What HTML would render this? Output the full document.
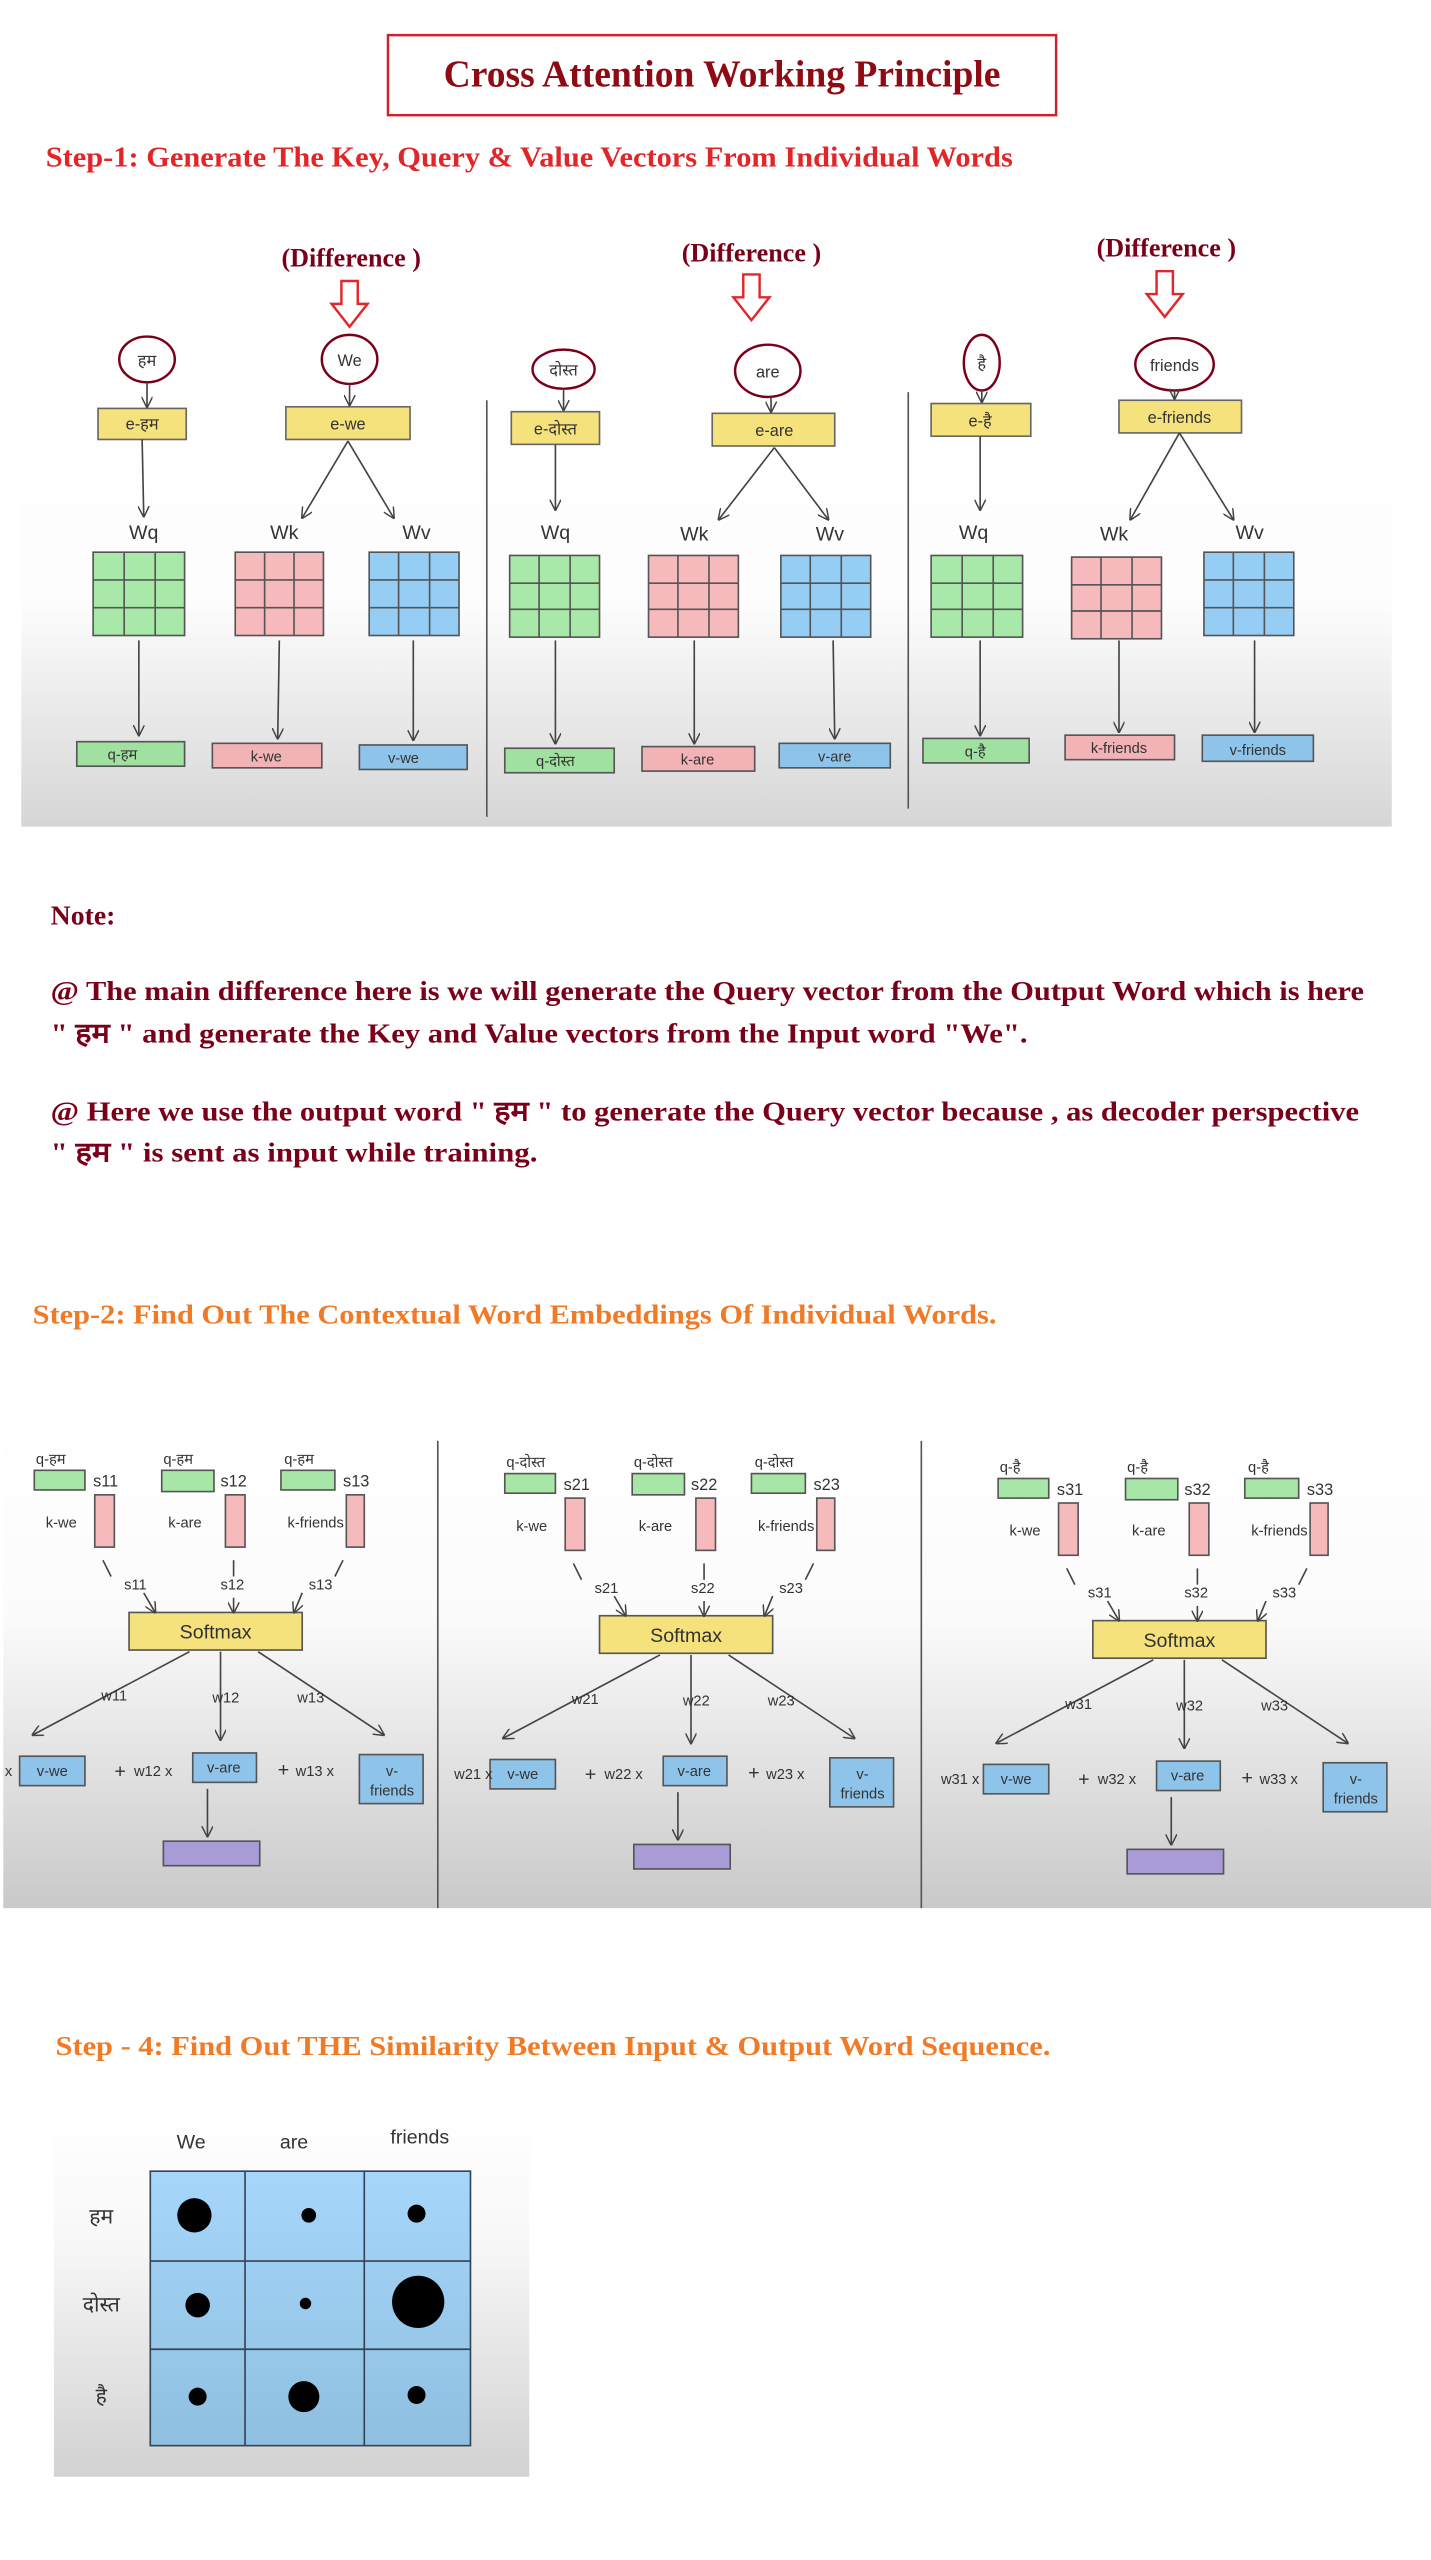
<!DOCTYPE html>
<html><head><meta charset="utf-8"><style>
html,body{margin:0;padding:0;background:#fff;}
svg{display:block}
.h{font-family:"Liberation Sans","Noto Sans CJK SC",sans-serif;fill:#333;}
.t{font-family:"Liberation Serif","Noto Serif CJK SC","Noto Sans CJK SC",serif;font-weight:bold;}
</style></head><body>
<svg width="1431" height="2560" viewBox="0 0 876 1567" preserveAspectRatio="none" xmlns="http://www.w3.org/2000/svg">
<defs>
<marker id="a" viewBox="0 0 10 10" refX="9" refY="5" markerWidth="7" markerHeight="7" orient="auto-start-reverse"><path d="M0,0 L10,5 L0,10" fill="none" stroke="#444" stroke-width="1.3"/></marker>
<linearGradient id="g1" x1="0" y1="0" x2="0" y2="1"><stop offset="0" stop-color="#fff"/><stop offset="0.65" stop-color="#fdfdfd"/><stop offset="1" stop-color="#d6d6d6"/></linearGradient>
<linearGradient id="g2" x1="0" y1="0" x2="0" y2="1"><stop offset="0" stop-color="#fff"/><stop offset="0.4" stop-color="#fbfbfb"/><stop offset="1" stop-color="#c9c9c9"/></linearGradient>
<linearGradient id="g3" x1="0" y1="0" x2="0" y2="1"><stop offset="0" stop-color="#fff"/><stop offset="0.35" stop-color="#f8f8f8"/><stop offset="1" stop-color="#d2d2d2"/></linearGradient>
<linearGradient id="gb" x1="0" y1="0" x2="0" y2="1"><stop offset="0" stop-color="#a6d6fa"/><stop offset="1" stop-color="#8fbfe0"/></linearGradient>
</defs>

<!-- Title -->
<rect x="237.5" y="21.5" width="409" height="49" fill="#fff" stroke="#d0202e" stroke-width="1.5"/>
<text class="t" x="442" y="53" font-size="23" fill="#8e0b14" text-anchor="middle">Cross Attention Working Principle</text>
<text class="t" x="28" y="102" font-size="17.5" fill="#e1262a" textLength="592" lengthAdjust="spacingAndGlyphs">Step-1: Generate The Key, Query &amp; Value Vectors From Individual Words</text>

<!-- Step 1 diagram -->
<rect x="13" y="112" width="839" height="394" fill="url(#g1)"/>
<line x1="298" y1="245" x2="298" y2="500" stroke="#555" stroke-width="1"/>
<line x1="556" y1="240" x2="556" y2="495" stroke="#555" stroke-width="1"/>

<g class="t" font-size="16" fill="#7a0019" text-anchor="middle">
<text x="215" y="163">(Difference )</text>
<text x="460" y="160">(Difference )</text>
<text x="714" y="157">(Difference )</text>
</g>
<g fill="#fff" stroke="#e0282c" stroke-width="1.5">
<path d="M209,172 h10 v14 h6 l-11,14 l-11,-14 h6z"/>
<path d="M455,168 h10 v14 h6 l-11,14 l-11,-14 h6z"/>
<path d="M708,166 h10 v14 h6 l-11,14 l-11,-14 h6z"/>
</g>

<g fill="none" stroke="#7a0019" stroke-width="1.5">
<ellipse cx="90" cy="220" rx="17" ry="14"/>
<ellipse cx="214" cy="220" rx="17" ry="15"/>
<ellipse cx="345" cy="226" rx="19" ry="12"/>
<ellipse cx="470" cy="227" rx="20" ry="16"/>
<ellipse cx="601" cy="222" rx="11" ry="17"/>
<ellipse cx="719" cy="223" rx="24" ry="16"/>
</g>
<g class="h" font-size="10" text-anchor="middle">
<text x="90" y="224">हम</text><text x="214" y="224">We</text><text x="345" y="230">दोस्त</text>
<text x="470" y="231">are</text><text x="601" y="226">है</text><text x="719" y="227">friends</text>
</g>

<g fill="#f6e27c" stroke="#666" stroke-width="1">
<rect x="60" y="250" width="54" height="19"/><rect x="175" y="249" width="76" height="20"/>
<rect x="313" y="252" width="54" height="20"/><rect x="436" y="253" width="75" height="20"/>
<rect x="570" y="247" width="61" height="20"/><rect x="685" y="245" width="75" height="20"/>
</g>
<g class="h" font-size="10" text-anchor="middle">
<text x="87" y="263">e-हम</text><text x="213" y="263">e-we</text><text x="340" y="266">e-दोस्त</text>
<text x="474" y="267">e-are</text><text x="600" y="261">e-है</text><text x="722" y="259">e-friends</text>
</g>

<g stroke="#444" stroke-width="1" marker-end="url(#a)" fill="none">
<line x1="90" y1="234" x2="90" y2="249"/><line x1="214" y1="235" x2="214" y2="248"/>
<line x1="345" y1="238" x2="345" y2="251"/><line x1="472" y1="243" x2="472" y2="252"/>
<line x1="601" y1="239" x2="601" y2="246"/><line x1="719" y1="239" x2="719" y2="244"/>
<line x1="87" y1="269" x2="88" y2="316"/><line x1="213" y1="270" x2="185" y2="317"/><line x1="213" y1="270" x2="241" y2="317"/>
<line x1="340" y1="272" x2="340" y2="312"/><line x1="474" y1="274" x2="440" y2="318"/><line x1="474" y1="274" x2="507" y2="318"/>
<line x1="600" y1="267" x2="600" y2="312"/><line x1="722" y1="265" x2="692" y2="318"/><line x1="722" y1="265" x2="755" y2="318"/>
<line x1="85" y1="392" x2="85" y2="450"/><line x1="171" y1="392" x2="170" y2="452"/><line x1="253" y1="392" x2="253" y2="453"/>
<line x1="340" y1="392" x2="340" y2="455"/><line x1="425" y1="392" x2="425" y2="455"/><line x1="510" y1="392" x2="511" y2="452"/>
<line x1="600" y1="392" x2="600" y2="450"/><line x1="685" y1="392" x2="685" y2="448"/><line x1="768" y1="392" x2="768" y2="448"/>
</g>
<g class="h" font-size="12" text-anchor="middle">
<text x="88" y="330">Wq</text><text x="174" y="330">Wk</text><text x="255" y="330">Wv</text>
<text x="340" y="330">Wq</text><text x="425" y="331">Wk</text><text x="508" y="331">Wv</text>
<text x="596" y="330">Wq</text><text x="682" y="331">Wk</text><text x="765" y="330">Wv</text>
</g>

<g stroke="#555" stroke-width="1">
<g fill="#a8e8a8"><rect x="57" y="338" width="56" height="51"/><rect x="312" y="340" width="55" height="50"/><rect x="570" y="340" width="56" height="50"/></g>
<g fill="#f6b9bc"><rect x="144" y="338" width="54" height="51"/><rect x="397" y="340" width="55" height="50"/><rect x="656" y="341" width="55" height="50"/></g>
<g fill="#95cdf4"><rect x="226" y="338" width="55" height="51"/><rect x="478" y="340" width="55" height="50"/><rect x="737" y="338" width="55" height="51"/></g>
<path d="M76,338v51M95,338v51M57,355h56M57,372h56 M162,338v51M180,338v51M144,355h54M144,372h54 M244,338v51M263,338v51M226,355h55M226,372h55
M330,340v50M349,340v50M312,357h55M312,373h55 M415,340v50M434,340v50M397,357h55M397,373h55 M496,340v50M515,340v50M478,357h55M478,373h55
M589,340v50M608,340v50M570,357h56M570,373h56 M674,341v50M693,341v50M656,358h55M656,374h55 M755,338v51M774,338v51M737,355h55M737,372h55" fill="none"/>
</g>

<g stroke="#555" stroke-width="1">
<rect x="47" y="454" width="66" height="15" fill="#a0e0a0"/><rect x="130" y="455" width="67" height="15" fill="#f2b3b6"/><rect x="220" y="456" width="66" height="15" fill="#8fc4ea"/>
<rect x="309" y="458" width="67" height="15" fill="#a0e0a0"/><rect x="393" y="457" width="69" height="15" fill="#f2b3b6"/><rect x="477" y="455" width="68" height="15" fill="#8fc4ea"/>
<rect x="565" y="452" width="65" height="15" fill="#a0e0a0"/><rect x="652" y="450" width="67" height="15" fill="#f2b3b6"/><rect x="736" y="450" width="68" height="16" fill="#8fc4ea"/>
</g>
<g class="h" font-size="9" text-anchor="middle">
<text x="75" y="465">q-हम</text><text x="163" y="466">k-we</text><text x="247" y="467">v-we</text>
<text x="340" y="469">q-दोस्त</text><text x="427" y="468">k-are</text><text x="511" y="466">v-are</text>
<text x="597" y="463">q-है</text><text x="685" y="461">k-friends</text><text x="770" y="462">v-friends</text>
</g>

<!-- Note -->
<g class="t" font-size="17" fill="#7a0019">
<text x="31" y="566">Note:</text>
<text x="31" y="612" textLength="804" lengthAdjust="spacingAndGlyphs">@ The main difference here is we will generate the Query vector from the Output Word which is here</text>
<text x="31" y="638" textLength="598" lengthAdjust="spacingAndGlyphs">" हम " and generate the Key and Value vectors from the Input word "We".</text>
<text x="31" y="686" textLength="801" lengthAdjust="spacingAndGlyphs">@ Here we use the output word " हम " to generate the Query vector because , as decoder perspective</text>
<text x="31" y="711" textLength="298" lengthAdjust="spacingAndGlyphs">" हम " is sent as input while training.</text>
</g>
<text class="t" x="20" y="810" font-size="17" fill="#f07a25" textLength="590" lengthAdjust="spacingAndGlyphs">Step-2: Find Out The Contextual Word Embeddings Of Individual Words.</text>

<!-- Step 2 diagram -->
<rect x="2" y="870" width="874" height="298" fill="url(#g2)"/>
<line x1="268" y1="882" x2="268" y2="1168" stroke="#555"/>
<line x1="564" y1="882" x2="564" y2="1168" stroke="#555"/>

<g id="p1">
<g stroke="#555" stroke-width="1">
<rect x="21" y="900" width="31" height="12" fill="#a8e6a8"/><rect x="99" y="900" width="32" height="13" fill="#a8e6a8"/><rect x="172" y="900" width="33" height="12" fill="#a8e6a8"/>
<rect x="58" y="915" width="12" height="32" fill="#f6b9bc"/><rect x="138" y="915" width="12" height="32" fill="#f6b9bc"/><rect x="212" y="915" width="11" height="32" fill="#f6b9bc"/>
<rect x="79" y="987" width="106" height="23" fill="#f6e27c"/>
<rect x="12" y="1075" width="40" height="18" fill="#8fc4ea"/><rect x="118" y="1073" width="39" height="18" fill="#8fc4ea"/><rect x="220" y="1074" width="39" height="30" fill="#8fc4ea"/>
<rect x="100" y="1127" width="59" height="15" fill="#a99bd6"/>
</g>
<g class="h" font-size="9" text-anchor="middle">
<text x="132" y="1003" font-size="12">Softmax</text>
<text x="32" y="1087">v-we</text><text x="137" y="1085">v-are</text><text x="240" y="1087">v-</text><text x="240" y="1099">friends</text>
</g>
<g class="h" font-size="9">
<text x="28" y="935">k-we</text><text x="103" y="935">k-are</text><text x="176" y="935">k-friends</text>
<text x="70" y="1088" font-size="12">+</text><text x="170" y="1087" font-size="12">+</text>
</g>
<g stroke="#444" stroke-width="1" fill="none">
<line x1="63" y1="955" x2="68" y2="965"/><line x1="143" y1="955" x2="143" y2="965"/><line x1="210" y1="955" x2="205" y2="965"/>
<g marker-end="url(#a)">
<line x1="88" y1="975" x2="95" y2="987"/><line x1="143" y1="978" x2="143" y2="987"/><line x1="185" y1="975" x2="180" y2="987"/>
<line x1="116" y1="1011" x2="20" y2="1062"/><line x1="135" y1="1011" x2="135" y2="1065"/><line x1="158" y1="1011" x2="235" y2="1062"/>
<line x1="127" y1="1095" x2="127" y2="1124"/>
</g></g>
</g>
<use href="#p1" transform="translate(288,2)"/>
<use href="#p1" transform="translate(590,5)"/>

<g class="h" font-size="9">
<text x="22" y="896">q-हम</text><text x="100" y="896">q-हम</text><text x="174" y="896">q-हम</text>
<text x="57" y="910" font-size="10">s11</text><text x="135" y="910" font-size="10">s12</text><text x="210" y="910" font-size="10">s13</text>
<text x="76" y="973">s11</text><text x="135" y="973">s12</text><text x="189" y="973">s13</text>
<text x="62" y="1041">w11</text><text x="130" y="1042">w12</text><text x="182" y="1042">w13</text>
<text x="3" y="1087">x</text><text x="82" y="1087">w12 x</text><text x="181" y="1087">w13 x</text>
</g>
<g class="h" font-size="9" transform="translate(288,2)">
<text x="22" y="896">q-दोस्त</text><text x="100" y="896">q-दोस्त</text><text x="174" y="896">q-दोस्त</text>
<text x="57" y="910" font-size="10">s21</text><text x="135" y="910" font-size="10">s22</text><text x="210" y="910" font-size="10">s23</text>
<text x="76" y="973">s21</text><text x="135" y="973">s22</text><text x="189" y="973">s23</text>
<text x="62" y="1041">w21</text><text x="130" y="1042">w22</text><text x="182" y="1042">w23</text>
<text x="-10" y="1087">w21 x</text><text x="82" y="1087">w22 x</text><text x="181" y="1087">w23 x</text>
</g>
<g class="h" font-size="9" transform="translate(590,5)">
<text x="22" y="896">q-है</text><text x="100" y="896">q-है</text><text x="174" y="896">q-है</text>
<text x="57" y="910" font-size="10">s31</text><text x="135" y="910" font-size="10">s32</text><text x="210" y="910" font-size="10">s33</text>
<text x="76" y="973">s31</text><text x="135" y="973">s32</text><text x="189" y="973">s33</text>
<text x="62" y="1041">w31</text><text x="130" y="1042">w32</text><text x="182" y="1042">w33</text>
<text x="-14" y="1087">w31 x</text><text x="82" y="1087">w32 x</text><text x="181" y="1087">w33 x</text>
</g>

<text class="t" x="34" y="1258" font-size="17" fill="#f07a25" textLength="609" lengthAdjust="spacingAndGlyphs">Step - 4: Find Out THE Similarity Between Input &amp; Output Word Sequence.</text>

<!-- Step 4 matrix -->
<rect x="33" y="1290" width="291" height="226" fill="url(#g3)"/>
<rect x="92" y="1329" width="196" height="168" fill="url(#gb)" stroke="#345" stroke-width="1"/>
<path d="M150,1329v168M223,1329v168M92,1384h196M92,1438h196" stroke="#345" stroke-width="1"/>
<g class="h" font-size="12" text-anchor="middle">
<text x="117" y="1315">We</text><text x="180" y="1315">are</text><text x="257" y="1312">friends</text>
<text x="62" y="1361" font-size="13">हम</text><text x="62" y="1415" font-size="13">दोस्त</text><text x="62" y="1471" font-size="13">है</text>
</g>
<g fill="#000">
<circle cx="119" cy="1356" r="10.5"/><circle cx="189" cy="1356" r="4.5"/><circle cx="255" cy="1355" r="5.5"/>
<circle cx="121" cy="1411" r="7.5"/><circle cx="187" cy="1410" r="3.5"/><circle cx="256" cy="1409" r="16"/>
<circle cx="121" cy="1467" r="5.5"/><circle cx="186" cy="1467" r="9.5"/><circle cx="255" cy="1466" r="5.5"/>
</g>
</svg>
</body></html>
